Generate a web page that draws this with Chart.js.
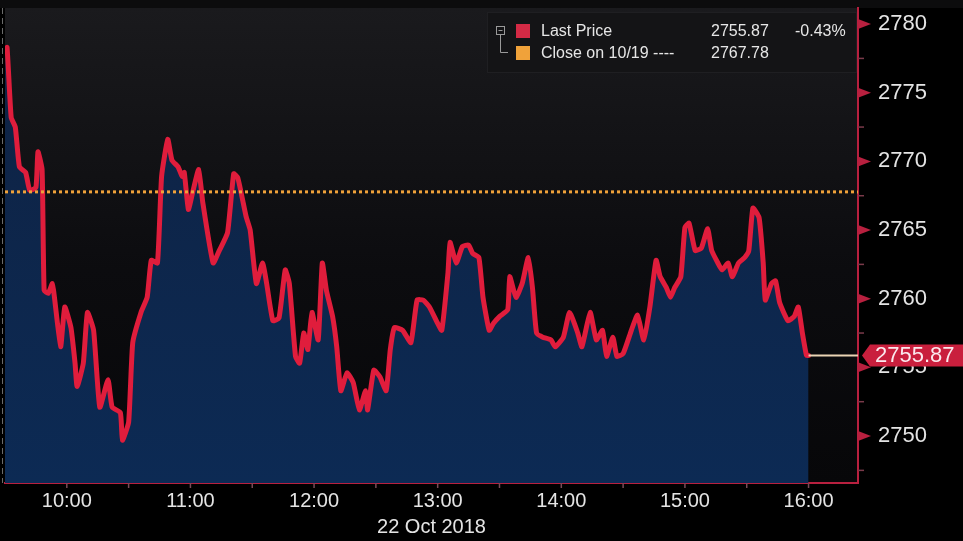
<!DOCTYPE html>
<html>
<head>
<meta charset="utf-8">
<script src="https://cdn.jsdelivr.net/npm/chart.js@4.4.1/dist/chart.umd.min.js"></script>
<style>
  html, body { margin: 0; padding: 0; background: #000; }
</style>
</head>
<body>
<canvas id="myChart" width="963" height="541"></canvas>
<script>
// minutes after the 9:30 open, and the index level at that minute
const minutes = [0, 1, 3, 5, 7, 10, 12, 15, 16, 18, 19, 21, 23, 24, 27, 29, 32, 34, 35, 38,
    40, 43, 46, 50, 52, 56, 57, 60, 62, 66, 69, 71, 74, 76, 79, 81, 84, 86, 87, 89,
    91, 94, 96, 101, 104, 108, 111, 113, 117, 119, 122, 125, 127, 130, 133, 136, 138, 141, 143, 145,
    147, 149, 152, 154, 156, 159, 161, 163, 166, 169, 172, 175, 176, 179, 182, 185, 187, 189, 193, 197,
    200, 203, 206, 210, 212, 215, 216, 219, 222, 225, 227, 230, 232, 235, 237, 240, 244, 245, 248, 251,
    254, 256, 258, 261, 265, 267, 271, 274, 278, 280, 284, 287, 290, 292, 295, 297, 300, 304, 307, 310,
    313, 316, 318, 321, 323, 325, 328, 330, 332, 335, 338, 341, 343, 346, 348, 351, 353, 356, 359, 361,
    363, 366, 368, 369, 372, 374, 376, 380, 383, 385, 387, 389, 390];
const prices = [2778.1, 2778.3, 2773.2, 2772.5, 2769.6, 2769.2, 2767.9, 2768.1, 2770.7, 2769.4, 2760.6, 2760.4, 2761.1, 2760.1, 2756.5, 2759.4, 2757.9, 2755.3, 2753.6, 2755.3,
    2759.0, 2757.7, 2752.1, 2754.1, 2752.1, 2751.7, 2749.7, 2751.0, 2756.8, 2759.0, 2760.1, 2762.8, 2762.6, 2768.9, 2771.6, 2770.1, 2769.6, 2768.9, 2769.2, 2766.5,
    2767.7, 2769.4, 2767.0, 2762.6, 2763.5, 2764.8, 2769.1, 2768.8, 2766.0, 2765.0, 2761.1, 2762.6, 2761.1, 2758.4, 2758.6, 2762.1, 2761.1, 2755.8, 2755.3, 2757.5,
    2756.3, 2759.0, 2757.0, 2762.6, 2760.6, 2758.7, 2756.5, 2753.3, 2754.6, 2753.9, 2751.9, 2753.3, 2751.9, 2754.8, 2754.3, 2753.3, 2756.3, 2757.9, 2757.7, 2756.8,
    2759.9, 2759.9, 2759.4, 2758.2, 2757.7, 2761.9, 2764.1, 2762.6, 2763.8, 2763.9, 2763.3, 2763.0, 2760.1, 2757.7, 2758.2, 2758.7, 2759.2, 2761.6, 2760.1, 2761.1,
    2763.0, 2760.8, 2757.5, 2757.2, 2757.0, 2756.5, 2757.2, 2759.0, 2757.5, 2756.5, 2759.0, 2757.0, 2757.7, 2755.8, 2757.2, 2755.8, 2756.0, 2757.7, 2758.8, 2757.0,
    2759.4, 2762.8, 2761.6, 2760.8, 2760.1, 2760.8, 2761.6, 2765.2, 2765.5, 2763.5, 2763.7, 2765.1, 2763.5, 2762.6, 2762.1, 2762.6, 2761.6, 2762.6, 2763.0, 2763.5,
    2766.6, 2765.9, 2762.6, 2759.9, 2761.1, 2761.3, 2759.7, 2758.4, 2758.7, 2759.4, 2757.5, 2755.87, 2755.87];

const hourMinutes = [30, 90, 150, 210, 270, 330, 390];
const hourLabels = ["10:00", "11:00", "12:00", "13:00", "14:00", "15:00", "16:00"];
const halfHourMinutes = [60, 120, 180, 240, 300, 360];
const yTicks = [2750, 2755, 2760, 2765, 2770, 2775, 2780];
const yMinorTicks = [2747.5, 2752.5, 2757.5, 2762.5, 2767.5, 2772.5, 2777.5];

const lastPrice = 2755.87;
const prevClose = 2767.78;
const changePct = "-0.43%";
const dateLabel = "22 Oct 2018";
const lastLabel = "Last Price";
const closeLabel = "Close on 10/19 ----";

const FONT = "'Liberation Sans', Arial, sans-serif";
const axisRed = '#b8203f';
const lineRed = '#e01d3c';
const closeOrange = '#f0a23a';

const xMax = 414;

const deco = {
    id: 'deco',
    beforeDraw(chart) {
        const { ctx, chartArea: a } = chart;
        ctx.save();
        ctx.fillStyle = '#000';
        ctx.fillRect(0, 0, chart.width, chart.height);
        ctx.fillStyle = '#0c0c0d';
        ctx.fillRect(0, 0, chart.width, a.top);
        const g = ctx.createLinearGradient(0, a.top, 0, a.bottom);
        g.addColorStop(0, '#1a1a1d');
        g.addColorStop(0.55, '#0c0c0f');
        g.addColorStop(1, '#070709');
        ctx.fillStyle = g;
        ctx.fillRect(a.left, a.top, a.right - a.left, a.bottom - a.top);
        // faint left border
        ctx.strokeStyle = '#6a6a6a';
        ctx.lineWidth = 1;
        ctx.setLineDash([6, 4]);
        ctx.beginPath();
        ctx.moveTo(2.5, a.top);
        ctx.lineTo(2.5, a.bottom);
        ctx.stroke();
        ctx.restore();
    },
    afterDraw(chart) {
        const { ctx, chartArea: a, scales: { x, y } } = chart;
        ctx.save();

        // right axis: arrow ticks and minor ticks
        ctx.fillStyle = axisRed;
        yTicks.forEach(v => {
            const py = y.getPixelForValue(v);
            ctx.beginPath();
            ctx.moveTo(a.right, py - 5);
            ctx.lineTo(a.right + 13, py);
            ctx.lineTo(a.right, py + 5);
            ctx.closePath();
            ctx.fill();
        });
        ctx.strokeStyle = '#7a3a4a';
        ctx.lineWidth = 1.5;
        yMinorTicks.forEach(v => {
            const py = y.getPixelForValue(v);
            if (py < a.top || py > a.bottom) return;
            ctx.beginPath();
            ctx.moveTo(a.right, py);
            ctx.lineTo(a.right + 6, py);
            ctx.stroke();
        });

        // bottom axis tick marks
        ctx.strokeStyle = '#7a4a58';
        hourMinutes.concat(halfHourMinutes).forEach(v => {
            const px = x.getPixelForValue(v);
            ctx.beginPath();
            ctx.moveTo(px, a.bottom);
            ctx.lineTo(px, a.bottom + 5);
            ctx.stroke();
        });

        // last price tag
        const ly = y.getPixelForValue(lastPrice);
        ctx.fillStyle = '#c91f3d';
        ctx.beginPath();
        ctx.moveTo(a.right + 4, ly);
        ctx.lineTo(a.right + 12, ly - 11);
        ctx.lineTo(chart.width, ly - 11);
        ctx.lineTo(chart.width, ly + 11);
        ctx.lineTo(a.right + 12, ly + 11);
        ctx.closePath();
        ctx.fill();
        ctx.fillStyle = '#fbe9ee';
        ctx.font = '22px ' + FONT;
        ctx.textBaseline = 'middle';
        ctx.textAlign = 'left';
        ctx.fillText(lastPrice.toFixed(2), a.right + 17, ly + 1);

        // legend box
        ctx.fillStyle = '#141416';
        ctx.fillRect(487, 12, 370, 61);
        ctx.strokeStyle = '#1f1f22';
        ctx.lineWidth = 1;
        ctx.strokeRect(487.5, 12.5, 369, 60);

        ctx.strokeStyle = '#9a9a9a';
        ctx.strokeRect(496.5, 26.5, 8, 8);
        ctx.beginPath();
        ctx.moveTo(498.5, 30.5); ctx.lineTo(502.5, 30.5);
        ctx.moveTo(500.5, 34.5); ctx.lineTo(500.5, 52.5); ctx.lineTo(508, 52.5);
        ctx.stroke();

        ctx.fillStyle = '#d42a45';
        ctx.fillRect(516, 24, 14, 14);
        ctx.fillStyle = closeOrange;
        ctx.fillRect(516, 46, 14, 14);

        ctx.fillStyle = '#e6e6e6';
        ctx.font = '16px ' + FONT;
        ctx.fillText(lastLabel, 541, 32);
        ctx.fillText(lastPrice.toFixed(2), 711, 32);
        ctx.fillText(changePct, 795, 32);
        ctx.fillText(closeLabel, 541, 54);
        ctx.fillText(prevClose.toFixed(2), 711, 54);

        ctx.restore();
    }
};

const data = {
    datasets: [
        {
            // previous close, dotted
            data: [{ x: 0, y: prevClose }, { x: xMax, y: prevClose }],
            borderColor: closeOrange,
            borderWidth: 3,
            borderDash: [3, 3],
            pointRadius: 0,
            fill: false
        },
        {
            // last price guide to the axis
            data: [{ x: minutes[minutes.length - 1], y: lastPrice }, { x: xMax, y: lastPrice }],
            borderColor: '#ead4b4',
            borderWidth: 2,
            pointRadius: 0,
            fill: false
        },
        {
            data: minutes.map((m, i) => ({ x: m, y: prices[i] })),
            borderColor: lineRed,
            borderWidth: 5,
            borderJoinStyle: 'round',
            borderCapStyle: 'round',
            pointRadius: 0,
            tension: 0.15,
            fill: 'start',
            backgroundColor: (c) => {
                const a = c.chart.chartArea;
                if (!a) return '#0c2546';
                const g = c.chart.ctx.createLinearGradient(0, a.top, 0, a.bottom);
                g.addColorStop(0, '#0f2242');
                g.addColorStop(1, '#0c2a54');
                return g;
            }
        }
    ]
};

const config = {
    type: 'line',
    data: data,
    plugins: [deco],
    options: {
        responsive: false,
        animation: false,
        devicePixelRatio: 1,
        layout: { padding: { left: 5, top: 8, right: 0, bottom: 0 } },
        plugins: {
            legend: { display: false },
            tooltip: { enabled: false }
        },
        scales: {
            x: {
                type: 'linear',
                min: 0,
                max: xMax,
                afterBuildTicks: s => { s.ticks = hourMinutes.map(v => ({ value: v })); },
                afterFit: s => { s.height = 58; s.paddingLeft = 0; s.paddingRight = 0; },
                ticks: {
                    autoSkip: false,
                    maxRotation: 0,
                    color: '#e4e4e4',
                    font: { family: FONT, size: 20 },
                    padding: 6,
                    callback: v => hourLabels[hourMinutes.indexOf(v)]
                },
                grid: { drawOnChartArea: false, drawTicks: false },
                border: { color: axisRed, width: 2 },
                title: {
                    display: true,
                    text: dateLabel,
                    color: '#e4e4e4',
                    font: { family: FONT, size: 20 },
                    padding: { top: 0, bottom: 2 }
                }
            },
            y: {
                position: 'right',
                min: 2746.58,
                max: 2781.17,
                afterBuildTicks: s => { s.ticks = yTicks.map(v => ({ value: v })); },
                afterFit: s => { s.width = 105; s.paddingTop = 0; s.paddingBottom = 0; },
                ticks: {
                    color: '#e4e4e4',
                    font: { family: FONT, size: 22 },
                    padding: 20,
                    callback: v => String(v)
                },
                grid: { drawOnChartArea: false, drawTicks: false },
                border: { color: axisRed, width: 2 }
            }
        }
    }
};

var ctx = document.getElementById("myChart").getContext('2d');
var myChart = new Chart(ctx, config);
</script>
</body>
</html>
